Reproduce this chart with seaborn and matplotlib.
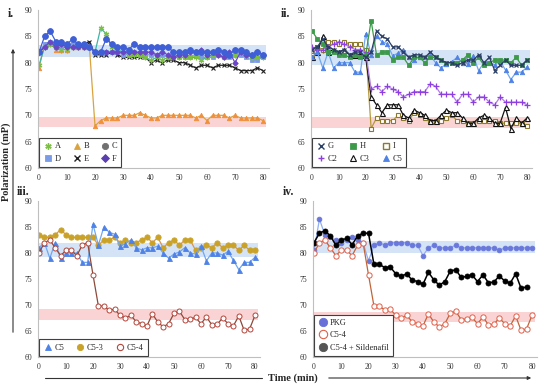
import numpy as np
import matplotlib
matplotlib.use("Agg")
import matplotlib.pyplot as plt
from matplotlib.lines import Line2D
import seaborn as sns

# time points (min)
t = list(range(0, 81, 2))

# panel i
A = [79.5, 83, 83.5, 83, 82.5, 82.5, 83, 83, 83, 83, 82, 86.5, 85.5, 83, 82.5, 82, 81.5, 81.5, 81.5, 81, 80.5,
     81, 80.5, 81, 81, 81, 81, 81, 81, 80.5, 81, 81.5, 81.5, 81, 81.5, 81.5, 82, 81.5, 81, 81, 81]
B = [79, 83.5, 84, 82.5, 82.5, 82.5, 83, 83, 83, 83, 68, 69, 69.5, 69.5, 69.5, 70, 70, 70, 70.5, 70, 69.5,
     69.5, 70, 70, 70, 70, 70, 70, 69.5, 70, 69, 70, 70, 70, 69.5, 70, 69.5, 69.5, 69.5, 69.5, 69]
C = [82, 85, 86, 84, 84, 83.5, 84.5, 83.5, 83.5, 83, 82, 82, 84.5, 83.5, 83, 83, 82.5, 83.5, 83, 83, 83,
     83, 83, 83, 82, 82, 82, 82.5, 82, 82, 82, 82, 82.5, 82, 81.5, 82.5, 82.5, 82, 81.5, 82, 81.5]
D = [82, 83.5, 84, 83.5, 83, 83, 83.5, 83, 83, 83, 82, 82, 82, 82, 82, 81.5, 81.5, 82, 81.5, 81.5, 81.5,
     81.5, 81.5, 81, 81, 81, 81, 81, 81.5, 81, 81, 81, 81.5, 81, 81, 81.5, 81.5, 81, 80.5, 80.5, 81]
E = [82, 83, 83.5, 83, 83, 83, 83.5, 83, 83.5, 84, 81.5, 81.5, 81.5, 82, 81.5, 81, 81, 81, 81, 81, 80,
     80.5, 80, 80.5, 80.5, 80, 80, 79.5, 79, 79.5, 79.5, 79, 79.5, 79.5, 79.5, 79, 78.5, 78.5, 78.5, 79, 78.5]
F = [82, 83, 84, 83, 83.5, 83, 83, 83, 83, 83, 82, 82, 82, 82, 82, 82, 82, 82, 82, 82, 82,
     81.5, 82, 81.5, 81, 81.5, 81.5, 82, 82, 82.5, 81.5, 82, 81.5, 81, 82, 80, 82, 81.5, 81.5, 82, 81.5]

# panel ii
G = [82.5, 83, 84.5, 83, 82.5, 82, 82.5, 81.5, 82, 82, 81, 82, 86, 85, 84.5, 83, 83, 82, 81, 81.5, 81.5,
     81, 82, 81, 80.5, 80, 80, 79.5, 80, 80.5, 80.5, 81.5, 80, 81, 78.5, 79.5, 80.5, 79.5, 79.5, 79.5, 80.5]
H = [86, 84.5, 83.5, 82, 82, 81.5, 81.5, 81, 81.5, 81, 81.5, 88, 81.5, 82, 82, 80.5, 81, 81, 79.5, 81, 81,
     80, 81, 81, 80.5, 80, 80, 80, 80.5, 81.5, 80, 81, 79.5, 80, 80.5, 80.5, 80.5, 80, 81, 79.5, 80.5]
I = [81.5, 83, 82.5, 84, 84, 83.5, 84, 83.5, 83.5, 83.5, 82.5, 67.5, 69.5, 69, 69, 69, 70, 69.5, 69, 70.5, 70,
     69.5, 69, 69, 69, 69.5, 70, 69, 69, 68.5, 68.5, 69, 69, 69, 69, 68.5, 68.5, 68.5, 68.5, 68.5, 68]
C2 = [83, 82.5, 82.5, 83, 83.5, 84, 83.5, 83, 82.5, 82.5, 82, 75, 75.5, 74.5, 75.5, 75, 74.5, 73.5, 74, 74.5, 74.5,
      74.5, 76, 75.5, 74, 74, 74, 72.5, 74, 74, 72.5, 73.5, 73.5, 72.5, 72, 73.5, 72.5, 72.5, 72.5, 72.5, 72]
C3 = [81, 82, 85, 82, 82.5, 82, 82.5, 81.5, 81.5, 81.5, 81, 73.5, 72, 70.5, 72, 72, 72, 70, 69.5, 71, 70.5,
      70, 69, 69, 70, 71, 70.5, 70.5, 69.5, 68.5, 68.5, 69.5, 70, 69.5, 68.5, 68.5, 71.5, 67.5, 69.5, 68.5, 69.5]
C5 = [81, 82, 79, 82, 79, 80, 80, 80, 78.2, 78.2, 85.5, 81.5, 85, 84, 83.6, 81.3, 81.8, 82.5, 81, 80.6, 81,
      81, 81.3, 80, 79, 79.8, 80.2, 81, 80, 79.8, 81.3, 78.5, 80, 80, 79.6, 80.3, 78.6, 76.8, 78.2, 78.2, 79.2]

# panel iii / iv
C5_3 = [83.5, 83, 83, 83.5, 84.5, 83.5, 83, 83, 83, 83, 83, 81.5, 82.5, 82.5, 83, 82, 82.5, 82, 82, 82.5, 83,
        82, 83, 81, 82, 82.5, 81.5, 82.5, 82.5, 80.5, 81, 81.5, 81, 82, 81, 81.5, 81.5, 80.5, 81.5, 80.5, 80.5]
C5_4 = [80, 82, 82.5, 81, 79.5, 80.5, 80.5, 79.5, 81.5, 82, 75.8, 69.8, 69.8, 69, 69.2, 68, 67.5, 68, 66.8, 66.4, 66,
        68.3, 66.7, 65.8, 66.4, 68.4, 68.8, 67.2, 67.3, 67.6, 66.4, 67.7, 66.2, 66.3, 67.5, 66.4, 66, 67.9, 65.1, 65.4, 68]
PKG = [80.5, 86.5, 83.5, 83, 82.5, 82, 82.5, 83, 82.5, 82, 78.5, 81.5, 82, 81.5, 82, 82, 82, 82, 81.5, 81.5, 79.5,
       81, 81.5, 81, 81, 81, 81.5, 81, 81, 81, 81, 81, 81, 81, 80.5, 81, 81, 81, 81, 81, 81]
SIL = [82, 83.8, 84.3, 83.3, 81.5, 82.5, 82.8, 81.6, 83.3, 83.8, 83.8, 77.8, 77.8, 77.2, 77.3, 76, 75.5, 76, 74.8, 74.5,
       74, 76.3, 74.8, 73.8, 74.5, 76.5, 76.8, 75.3, 75.5, 75.8, 74.5, 75.8, 74.3, 74.4, 75.6, 74.6, 74.2, 76, 73.2, 73.5]
t_sil = t[:len(SIL)]

sns.set_style("white")
plt.rcParams['font.family'] = ['Liberation Serif', 'DejaVu Serif']

fig = plt.figure(figsize=(5.5, 3.88), dpi=100)


def make_ax(x0, x80, y90, y60, xlo=-0.5, xhi=82):
    ppu = (x80 - x0) / 80
    left = x0 + xlo * ppu
    right = x0 + xhi * ppu
    ax = fig.add_axes([left / 550, 1 - y60 / 388, (right - left) / 550, (y60 - y90) / 388])
    ax.set_xlim(xlo, xhi)
    ax.set_ylim(60, 90)
    ax.set_xticks(range(0, 81, 10))
    ax.set_yticks(range(60, 91, 5))
    ax.tick_params(length=0, labelsize=5.5, pad=4, colors='#333333')
    for s in ['top', 'right']:
        ax.spines[s].set_visible(False)
    for s in ['left', 'bottom']:
        ax.spines[s].set_color('#BFBFBF')
        ax.spines[s].set_linewidth(0.8)
    ax.patch.set_alpha(0)
    return ax


def bands(ax, blue, pink):
    ax.fill_between([0, 81], blue[0], blue[1], color='#D5E3F6', lw=0, zorder=0)
    ax.fill_between([0, 81], pink[0], pink[1], color='#FAD4D4', lw=0, zorder=0)


def series(ax, x, y, color, marker, mfc, mec, ms=3.2, lw=0.9, mew=0.6):
    sns.lineplot(x=x, y=y, ax=ax, color=color, lw=lw, marker=marker, markersize=ms,
                 markerfacecolor=mfc, markeredgecolor=mec, markeredgewidth=mew)


def legend(ax, items, ncol, loc, **kw):
    handles = [Line2D([], [], ls='none', marker=m, markersize=ms, markerfacecolor=fc,
                      markeredgecolor=ec, markeredgewidth=ew, label=lab)
               for lab, m, fc, ec, ms, ew in items]
    lg = ax.legend(handles=handles, ncol=ncol, loc=loc, fontsize=6, frameon=True, fancybox=False,
                   borderpad=0.5, handletextpad=0.2, columnspacing=1.3, handlelength=1.2,
                   borderaxespad=0.15, **kw)
    lg.get_frame().set_edgecolor('#404040')
    lg.get_frame().set_linewidth(0.8)
    lg.get_frame().set_alpha(1)
    return lg


ast = (6, 2, 0)

# ---- panel i
ax1 = make_ax(39, 263, 10, 168)
bands(ax1, (81.1, 83.4), (67.7, 69.7))
series(ax1, t, B, '#D9A43F', '^', '#F0903A', '#F0903A')
series(ax1, t, E, '#222222', 'x', '#222222', '#222222', mew=0.8)
series(ax1, t, D, '#7C9BE6', 's', '#7C9BE6', '#7C9BE6')
series(ax1, t, A, '#3DB5A6', ast, '#7DBF45', '#7DBF45', ms=4, mew=0.9)
series(ax1, t, F, '#6A45C8', 'D', '#6A45C8', '#6A45C8', ms=2.8)
series(ax1, t, C, '#3F5FD6', 'o', '#3F5FD6', '#3F5FD6', ms=4.2)
legend(ax1, [('A', ast, '#7DBF45', '#7DBF45', 4.5, 1.0),
             ('D', 's', '#7C9BE6', '#7C9BE6', 4.5, 0.6),
             ('B', '^', '#D9A43F', '#D9A43F', 4.5, 0.6),
             ('E', 'x', '#222222', '#222222', 4, 1.0),
             ('C', 'o', '#707070', '#707070', 4.5, 0.6),
             ('F', 'D', '#5A3FB0', '#5A3FB0', 4, 0.6)], 3, 'lower left')

# ---- panel ii
ax2 = make_ax(312, 527, 10, 168)
bands(ax2, (79.6, 82.4), (67.6, 69.7))
series(ax2, t, I, '#B59A3A', 's', 'white', '#8B7A2B', ms=3.4, mew=0.8)
series(ax2, t, C3, '#111111', '^', 'white', '#111111', ms=3.6, mew=0.8)
series(ax2, t, C2, '#B07CE8', '+', '#8E3FE0', '#8E3FE0', ms=4, mew=0.9)
series(ax2, t, C5, '#6FA8F0', '^', '#4F82E6', '#4F82E6')
series(ax2, t, H, '#3C9A4A', 's', '#3C9A4A', '#3C9A4A')
series(ax2, t, G, '#2B3F66', 'x', '#2B3F66', '#2B3F66', mew=0.9)
legend(ax2, [('G', 'x', '#2B3F66', '#2B3F66', 4, 1.0),
             ('C2', '+', '#8E3FE0', '#8E3FE0', 5, 1.0),
             ('H', 's', '#3C9A4A', '#3C9A4A', 4.5, 0.6),
             ('C3', '^', 'white', '#111111', 4.5, 0.8),
             ('I', 's', 'white', '#8B7A2B', 4.5, 1.0),
             ('C5', '^', '#4F82E6', '#4F82E6', 4.5, 0.6)], 3, 'lower left')

# ---- panel iii
ax3 = make_ax(39, 255, 201, 357)
bands(ax3, (79.2, 82.0), (67.2, 69.3))
series(ax3, t, C5_3, '#D8955A', 'o', '#C9A227', '#C9A227', ms=3.8)
series(ax3, t, C5, '#6FA8F0', '^', '#4F82E6', '#4F82E6', ms=3.6)
series(ax3, t, C5_4, '#8B4A3A', 'o', 'white', '#B5453A', ms=3.6, mew=0.7)
legend(ax3, [('C5', '^', '#4F82E6', '#4F82E6', 4.5, 0.6),
             ('C5-3', 'o', '#C9A227', '#C9A227', 4.5, 0.6),
             ('C5-4', 'o', 'white', '#B5453A', 4.5, 0.8)], 3, 'lower left')

# ---- panel iv
ax4 = make_ax(314, 532, 201, 357)
bands(ax4, (80.0, 82.3), (66.7, 68.7))
series(ax4, t, PKG, '#93AEF2', 'o', '#6A78DC', '#6A78DC', ms=3.4)
series(ax4, t_sil, SIL, '#000000', 'o', '#000000', '#000000', ms=3.6, lw=1.1)
series(ax4, t, C5_4, '#C0653A', 'o', 'white', '#E0604A', ms=3.8, mew=0.7)
legend(ax4, [('PKG', 'o', '#6A6FD8', '#6A6FD8', 6, 0.6),
             ('C5-4', 'o', 'white', '#E0604A', 6, 0.8),
             ('C5-4 + Sildenafil', 'o', '#555555', '#555555', 6, 0.6)], 1, 'lower left')

# panel labels
for txt, x, y in [('i.', 8, 14), ('ii.', 281, 14), ('iii.', 17, 192), ('iv.', 283, 192)]:
    fig.text(x / 550, 1 - y / 388, txt, fontsize=8.5, fontweight='bold', va='center', ha='left')

# axis titles with arrows
fig.text(6 / 550, 1 - 162 / 388, 'Polarization (mP)', rotation=90, fontsize=7.5,
         fontweight='bold', va='center', ha='center')
fig.add_artist(matplotlib.patches.FancyArrowPatch((13 / 550, 1 - 335 / 388), (13 / 550, 1 - 46 / 388),
                                                  transform=fig.transFigure, arrowstyle='-|>',
                                                  mutation_scale=5, lw=0.8, color='#333333'))
fig.text(293 / 550, 1 - 378 / 388, 'Time (min)', fontsize=7.5, fontweight='bold', va='center', ha='center')
fig.add_artist(Line2D([45 / 550, 262 / 550], [1 - 378 / 388, 1 - 378 / 388],
                      transform=fig.transFigure, lw=0.8, color='#333333'))
fig.add_artist(matplotlib.patches.FancyArrowPatch((326 / 550, 1 - 378 / 388), (534 / 550, 1 - 378 / 388),
                                                  transform=fig.transFigure, arrowstyle='-|>',
                                                  mutation_scale=5, lw=0.8, color='#333333'))

fig.savefig('out.png', dpi=100)
